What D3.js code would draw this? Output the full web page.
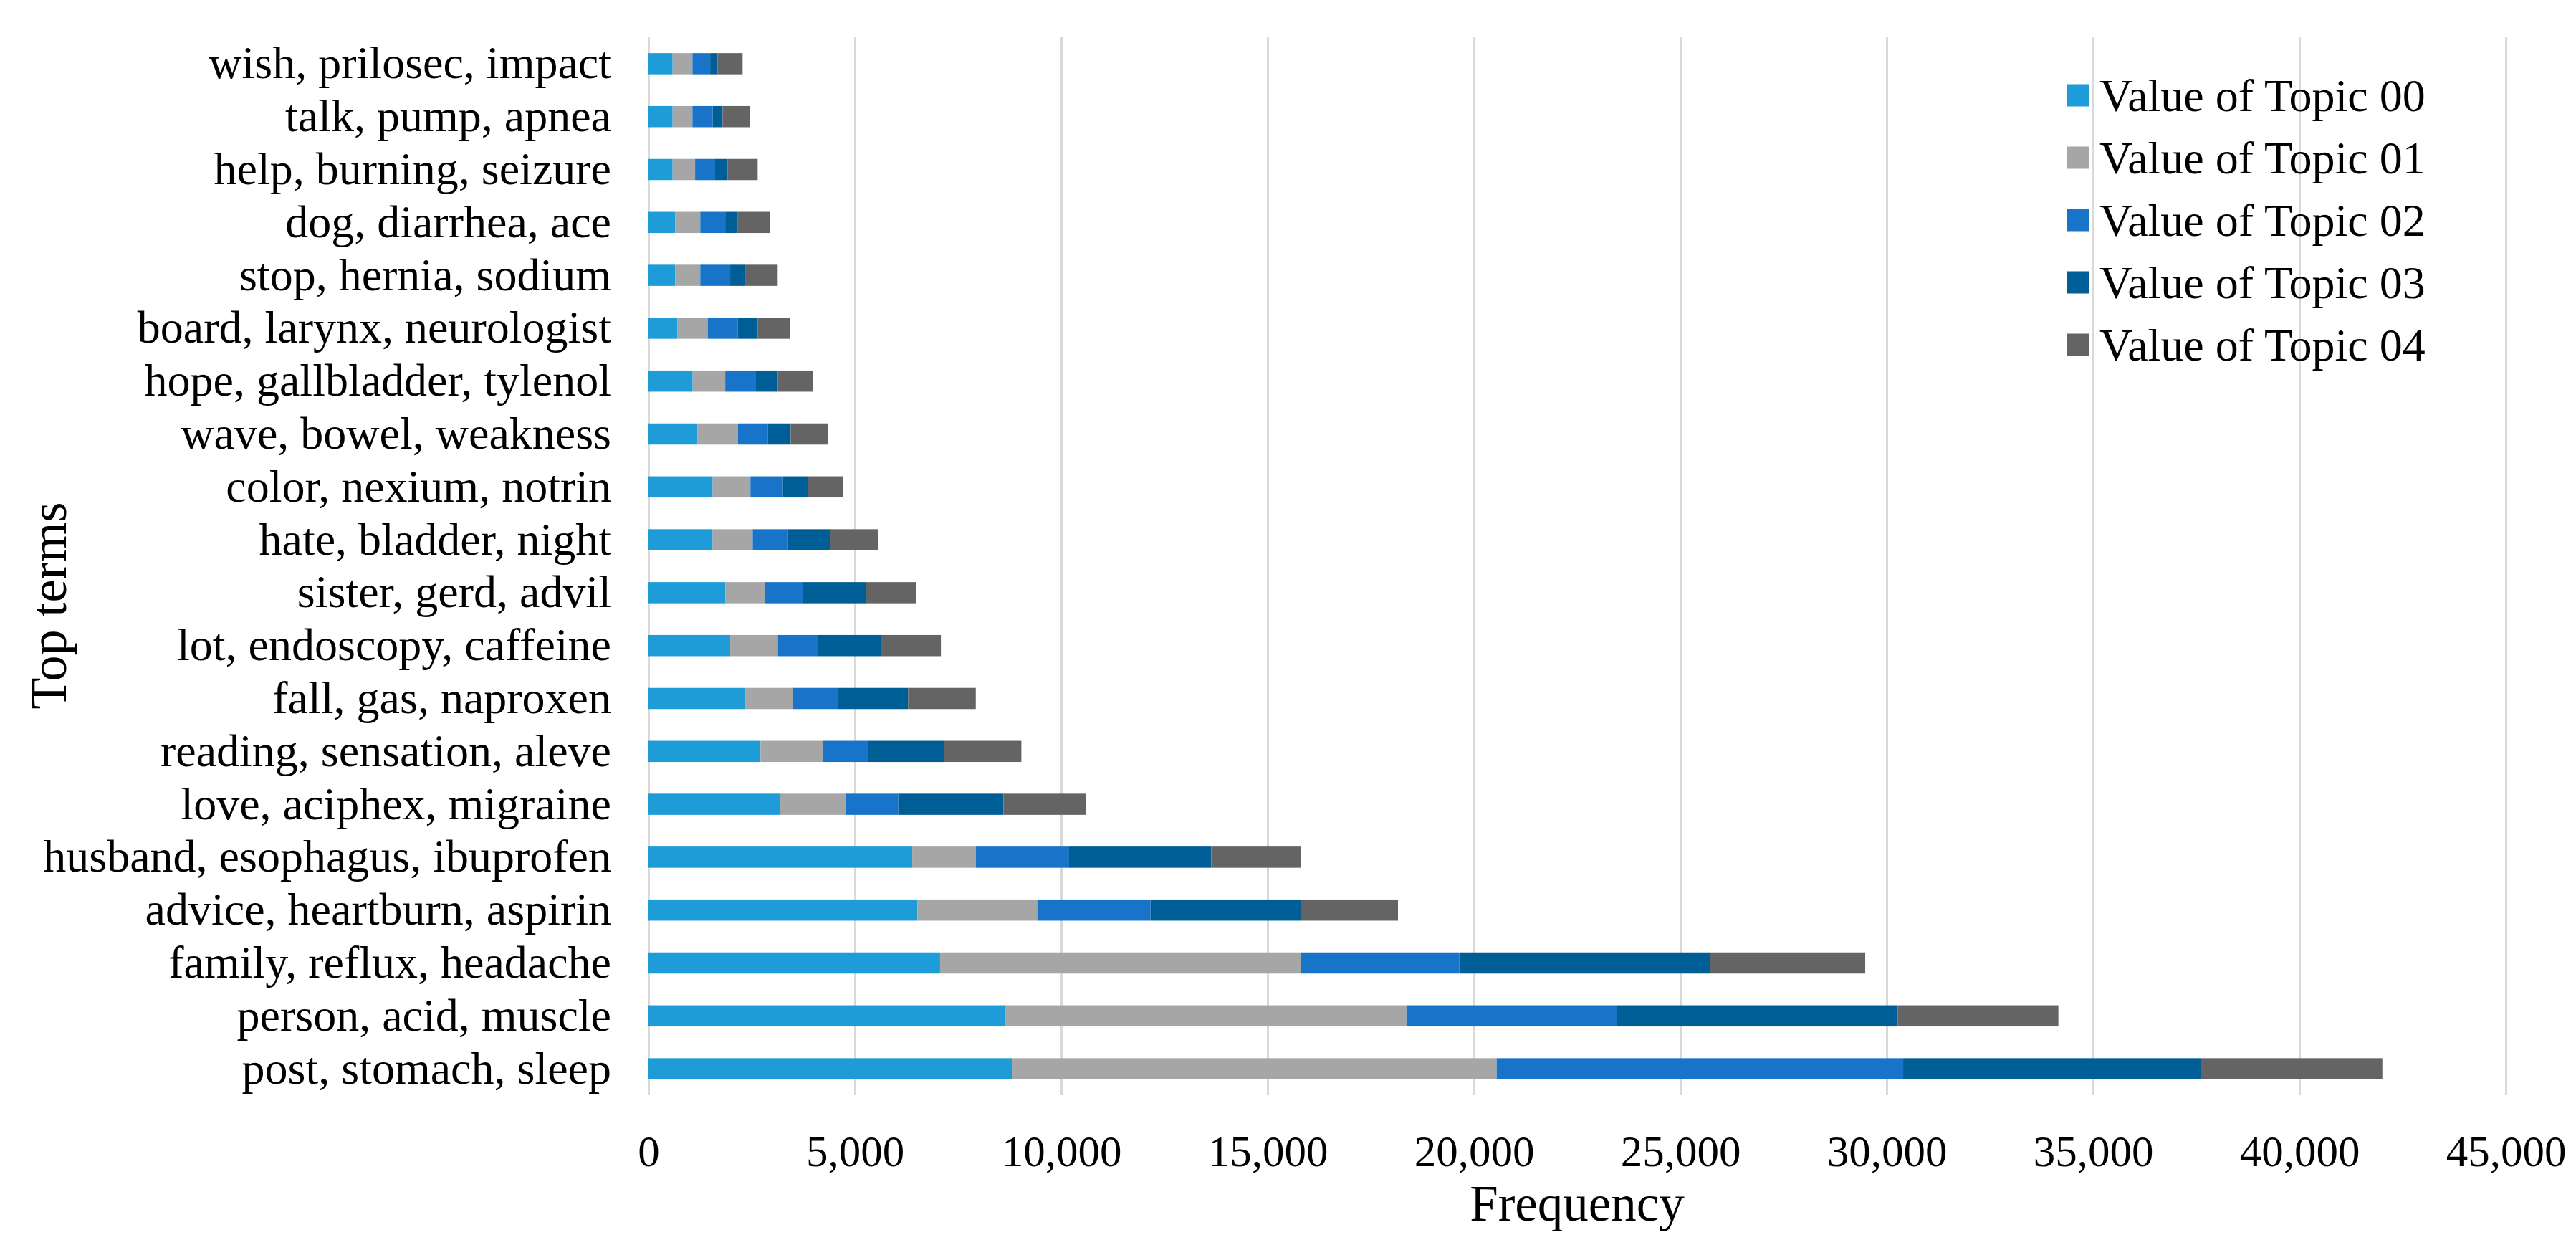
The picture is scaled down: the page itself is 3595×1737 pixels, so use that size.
<!DOCTYPE html>
<html>
<head>
<meta charset="utf-8">
<script src="https://cdn.jsdelivr.net/npm/d3@7"></script>
<style>
  body { margin: 0; background: #fff; }
  text { font-family: "Liberation Serif", "Times New Roman", serif; fill: #000; }
</style>
</head>
<body>
<div id="chart"></div>
<script>
const categories = [
  'wish, prilosec, impact', 'talk, pump, apnea', 'help, burning, seizure',
  'dog, diarrhea, ace', 'stop, hernia, sodium', 'board, larynx, neurologist',
  'hope, gallbladder, tylenol', 'wave, bowel, weakness', 'color, nexium, notrin',
  'hate, bladder, night', 'sister, gerd, advil', 'lot, endoscopy, caffeine',
  'fall, gas, naproxen', 'reading, sensation, aleve', 'love, aciphex, migraine',
  'husband, esophagus, ibuprofen', 'advice, heartburn, aspirin',
  'family, reflux, headache', 'person, acid, muscle', 'post, stomach, sleep'
]
const topic00 = [585, 585, 585, 645, 645, 705, 1070, 1190, 1555, 1555, 1860, 1980, 2345, 2715, 3190, 6390, 6520, 7065, 8645, 8820]
const topic01 = [480, 480, 545, 610, 610, 730, 790, 980, 915, 970, 970, 1155, 1155, 1515, 1590, 1540, 2900, 8745, 9720, 11730]
const topic02 = [430, 490, 485, 605, 725, 730, 730, 725, 785, 850, 910, 970, 1095, 1095, 1270, 2260, 2745, 3835, 5100, 9850]
const topic03 = [180, 240, 305, 305, 365, 480, 545, 550, 610, 1035, 1525, 1525, 1695, 1830, 2550, 3445, 3640, 6075, 6805, 7220]
const topic04 = [605, 670, 725, 785, 785, 790, 850, 905, 845, 1150, 1215, 1455, 1640, 1880, 2005, 2180, 2355, 3760, 3890, 4390]
const seriesNames = ['Value of Topic 00', 'Value of Topic 01', 'Value of Topic 02', 'Value of Topic 03', 'Value of Topic 04']
const xTicks = [0, 5000, 10000, 15000, 20000, 25000, 30000, 35000, 40000, 45000]
const colors = ['#1e9cd8', '#a6a6a6', '#1874c8', '#005e96', '#646464']

const width = 3595
const height = 1737
const margin = { top: 52, right: 98, bottom: 209, left: 905 }

const rows = categories.map((c, i) => ({
  term: c,
  t0: topic00[i], t1: topic01[i], t2: topic02[i], t3: topic03[i], t4: topic04[i]
}))
const keys = ['t0', 't1', 't2', 't3', 't4']
const stacked = d3.stack().keys(keys)(rows)

const svg = d3.select('#chart').append('svg')
              .attr('width', width)
              .attr('height', height)

const x = d3.scaleLinear()
            .domain([0, 45000])
            .range([margin.left, width - margin.right])
const y = d3.scaleBand()
            .domain(categories)
            .range([margin.top, height - margin.bottom])
            .paddingInner(0.6)
            .paddingOuter(0.3)

// gridlines + tick labels
const xAxis = svg.append('g')
                 .attr('transform', `translate(0,${height - margin.bottom})`)
                 .call(d3.axisBottom(x)
                         .tickValues(xTicks)
                         .tickFormat(d3.format(','))
                         .tickSizeInner(-(height - margin.top - margin.bottom))
                         .tickSizeOuter(0)
                         .tickPadding(56))
xAxis.select('.domain').remove()
xAxis.selectAll('line').attr('stroke', '#d9d9d9').attr('stroke-width', 3)
xAxis.selectAll('text').style('font-size', '61px')

const yAxis = svg.append('g')
                 .attr('transform', `translate(${margin.left},0)`)
                 .call(d3.axisLeft(y).tickSize(0).tickPadding(52))
yAxis.select('.domain').remove()
yAxis.selectAll('text').style('font-size', '64px')

// bars
svg.append('g')
   .selectAll('g')
   .data(stacked)
   .join('g')
   .attr('fill', (d, i) => colors[i])
   .selectAll('rect')
   .data(d => d)
   .join('rect')
   .attr('x', d => x(d[0]))
   .attr('y', d => y(d.data.term))
   .attr('width', d => x(d[1]) - x(d[0]))
   .attr('height', y.bandwidth())

// axis titles
svg.append('text')
   .attr('x', (x.range()[0] + x.range()[1]) / 2)
   .attr('y', 1703)
   .attr('text-anchor', 'middle')
   .style('font-size', '71px')
   .text('Frequency')
svg.append('text')
   .attr('transform', 'translate(92,845) rotate(-90)')
   .attr('text-anchor', 'middle')
   .style('font-size', '72px')
   .text('Top terms')

// legend
const legend = svg.append('g')
                  .attr('transform', 'translate(2884,133)')
const item = legend.selectAll('g')
                   .data(seriesNames)
                   .join('g')
                   .attr('transform', (d, i) => `translate(0,${i * 87})`)
item.append('rect')
    .attr('y', -15.5)
    .attr('width', 31)
    .attr('height', 31)
    .attr('fill', (d, i) => colors[i])
item.append('text')
    .attr('x', 46)
    .attr('dy', '0.35em')
    .style('font-size', '64px')
    .text(d => d)
</script>
</body>
</html>
